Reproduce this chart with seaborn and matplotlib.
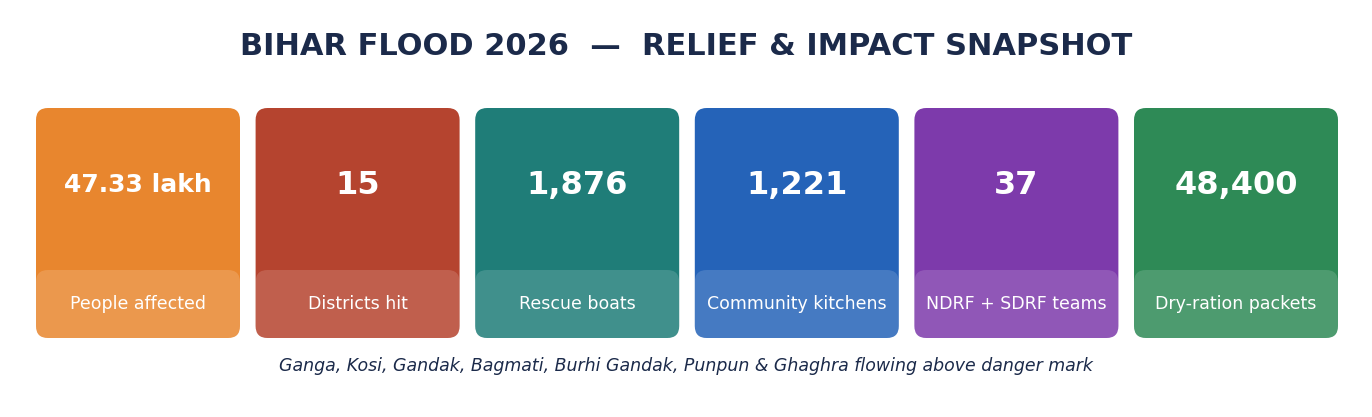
import matplotlib
matplotlib.use("Agg")
import matplotlib.pyplot as plt
import seaborn as sns
from matplotlib.patches import FancyBboxPatch

values = ["47.33 lakh", "15", "1,876", "1,221", "37", "48,400"]
labels = ["People affected", "Districts hit", "Rescue boats",
          "Community kitchens", "NDRF + SDRF teams", "Dry-ration packets"]
colors = ["#E8862E", "#B5442F", "#1F7D78", "#2563B8", "#7D3AAB", "#2E8A56"]
title = "BIHAR FLOOD 2026  \u2014  RELIEF & IMPACT SNAPSHOT"
subtitle = "Ganga, Kosi, Gandak, Bagmati, Burhi Gandak, Punpun & Ghaghra flowing above danger mark"

sns.set_theme(style="white")
plt.rcParams['font.family'] = ['DejaVu Sans']

W, H = 1372, 417
fig = plt.figure(figsize=(13.72, 4.17), dpi=100)
ax = fig.add_axes([0, 0, 1, 1])
ax.set_xlim(0, W)
ax.set_ylim(H, 0)
ax.axis("off")

x0, cw, gap = 36, 204, 15.6
top, bot, band = 108, 338, 270
r = 12
for i, (v, lab, c) in enumerate(zip(values, labels, colors)):
    x = x0 + i * (cw + gap)
    ax.add_patch(FancyBboxPatch((x + r, top + r), cw - 2 * r, bot - top - 2 * r,
                                boxstyle=f"round,pad={r}", fc=c, ec="none"))
    ax.add_patch(FancyBboxPatch((x + r, band + r), cw - 2 * r, bot - band - 2 * r,
                                boxstyle=f"round,pad={r}", fc="white", alpha=0.15, ec="none"))
    fs = 18 if len(v) > 6 else 23
    ax.text(x + cw / 2, 185, v, ha="center", va="center", color="white",
            fontsize=fs, fontweight="bold")
    ax.text(x + cw / 2, 304, lab, ha="center", va="center", color="white", fontsize=12.5)

ax.text(W / 2, 46, title, ha="center", va="center", color="#1B2A4A",
        fontsize=22, fontweight="bold")
ax.text(W / 2, 366, subtitle, ha="center", va="center", color="#1B2A4A",
        fontsize=12.5, style="italic")

fig.savefig("out.png", dpi=100)
